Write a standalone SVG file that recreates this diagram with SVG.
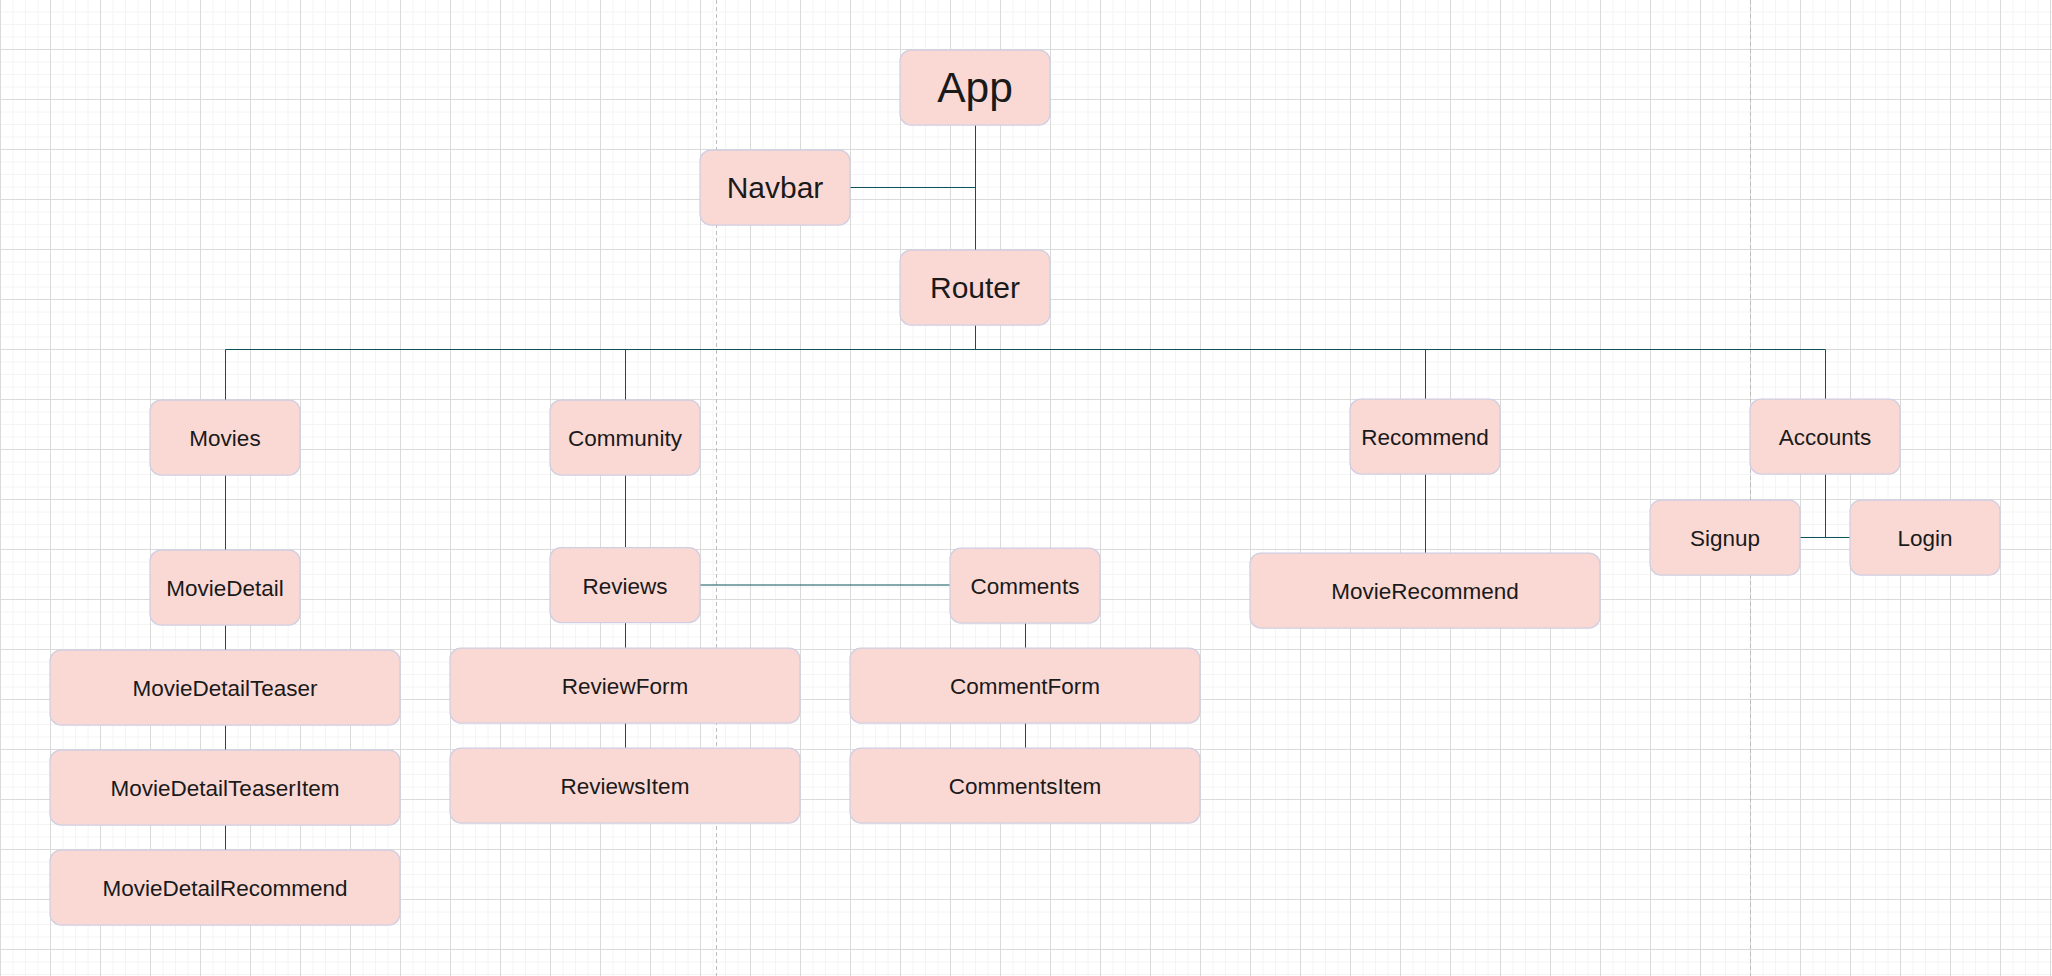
<svg xmlns="http://www.w3.org/2000/svg" width="2052" height="976" viewBox="0 0 2052 976">
<style>
.n rect{fill:#FAD9D5;stroke:#D0CEE2;stroke-width:1.25}
.n text{font-family:"Liberation Sans",Arial,sans-serif;fill:#1A1A1A;text-anchor:middle}
.s text{font-size:22.5px}
.m text{font-size:30px}
.e path{fill:none;stroke:#09555B;stroke-width:1}
.pb{stroke:#BDBDBD;stroke-width:1;stroke-dasharray:4 3}
</style>
<defs>
<pattern id="grid" patternUnits="userSpaceOnUse" width="50" height="50">
<path d="M13,0V50M25.5,0V50M38,0V50M0,12H50M0,24.5H50M0,37H50" stroke="#F4F4F4" stroke-width="1" fill="none"/>
<path d="M0.5,0V50M0,49.5H50" stroke="#DADADA" stroke-width="1" fill="none"/>
</pattern>
</defs>
<rect width="2052" height="976" fill="#FFFFFF"/>
<rect width="2052" height="976" fill="url(#grid)"/>
<line class="pb" x1="716.5" y1="0" x2="716.5" y2="976"/>
<line class="pb" x1="1750.5" y1="0" x2="1750.5" y2="976"/>
<g class="e" id="connectors">
<path d="M975.5,125V250"/>
<path d="M850,187.5H975.5"/>
<path d="M975.5,325V349.5"/>
<path d="M225.5,400V349.5H1825.5V399"/>
<path d="M625.5,349.5V400"/>
<path d="M1425.5,349.5V399"/>
<path d="M225.5,475V550"/>
<path d="M225.5,625V650"/>
<path d="M225.5,725V750"/>
<path d="M225.5,825V850"/>
<path d="M625.5,475V547.5"/>
<path d="M625.5,622.5V648"/>
<path d="M625.5,723V748"/>
<path d="M700,585H950"/>
<path d="M1025.5,623V648"/>
<path d="M1025.5,723V748"/>
<path d="M1425.5,474V553"/>
<path d="M1825.5,474V537.5"/>
<path d="M1800,537.5H1850"/>
</g>
<g class="n" id="app"><rect x="900" y="50" width="150" height="75" rx="11"/><text x="975" y="102" font-size="42.5">App</text></g>
<g class="n m" id="navbar"><rect x="700" y="150" width="150" height="75" rx="11"/><text x="775" y="198">Navbar</text></g>
<g class="n m" id="router"><rect x="900" y="250" width="150" height="75" rx="11"/><text x="975" y="298">Router</text></g>
<g class="n s" id="movies"><rect x="150" y="400" width="150" height="75" rx="11"/><text x="225" y="446">Movies</text></g>
<g class="n s" id="moviedetail"><rect x="150" y="550" width="150" height="75" rx="11"/><text x="225" y="596">MovieDetail</text></g>
<g class="n s" id="moviedetailteaser"><rect x="50" y="650" width="350" height="75" rx="11"/><text x="225" y="696">MovieDetailTeaser</text></g>
<g class="n s" id="moviedetailteaseritem"><rect x="50" y="750" width="350" height="75" rx="11"/><text x="225" y="796">MovieDetailTeaserItem</text></g>
<g class="n s" id="moviedetailrecommend"><rect x="50" y="850" width="350" height="75" rx="11"/><text x="225" y="896">MovieDetailRecommend</text></g>
<g class="n s" id="community"><rect x="550" y="400" width="150" height="75" rx="11"/><text x="625" y="446">Community</text></g>
<g class="n s" id="reviews"><rect x="550" y="547.5" width="150" height="75" rx="11"/><text x="625" y="593.5">Reviews</text></g>
<g class="n s" id="reviewform"><rect x="450" y="648" width="350" height="75" rx="11"/><text x="625" y="694">ReviewForm</text></g>
<g class="n s" id="reviewsitem"><rect x="450" y="748" width="350" height="75" rx="11"/><text x="625" y="794">ReviewsItem</text></g>
<g class="n s" id="comments"><rect x="950" y="548" width="150" height="75" rx="11"/><text x="1025" y="594">Comments</text></g>
<g class="n s" id="commentform"><rect x="850" y="648" width="350" height="75" rx="11"/><text x="1025" y="694">CommentForm</text></g>
<g class="n s" id="commentsitem"><rect x="850" y="748" width="350" height="75" rx="11"/><text x="1025" y="794">CommentsItem</text></g>
<g class="n s" id="recommend"><rect x="1350" y="399" width="150" height="75" rx="11"/><text x="1425" y="445">Recommend</text></g>
<g class="n s" id="movierecommend"><rect x="1250" y="553" width="350" height="75" rx="11"/><text x="1425" y="599">MovieRecommend</text></g>
<g class="n s" id="accounts"><rect x="1750" y="399" width="150" height="75" rx="11"/><text x="1825" y="445">Accounts</text></g>
<g class="n s" id="signup"><rect x="1650" y="500" width="150" height="75" rx="11"/><text x="1725" y="546">Signup</text></g>
<g class="n s" id="login"><rect x="1850" y="500" width="150" height="75" rx="11"/><text x="1925" y="546">Login</text></g>
</svg>
